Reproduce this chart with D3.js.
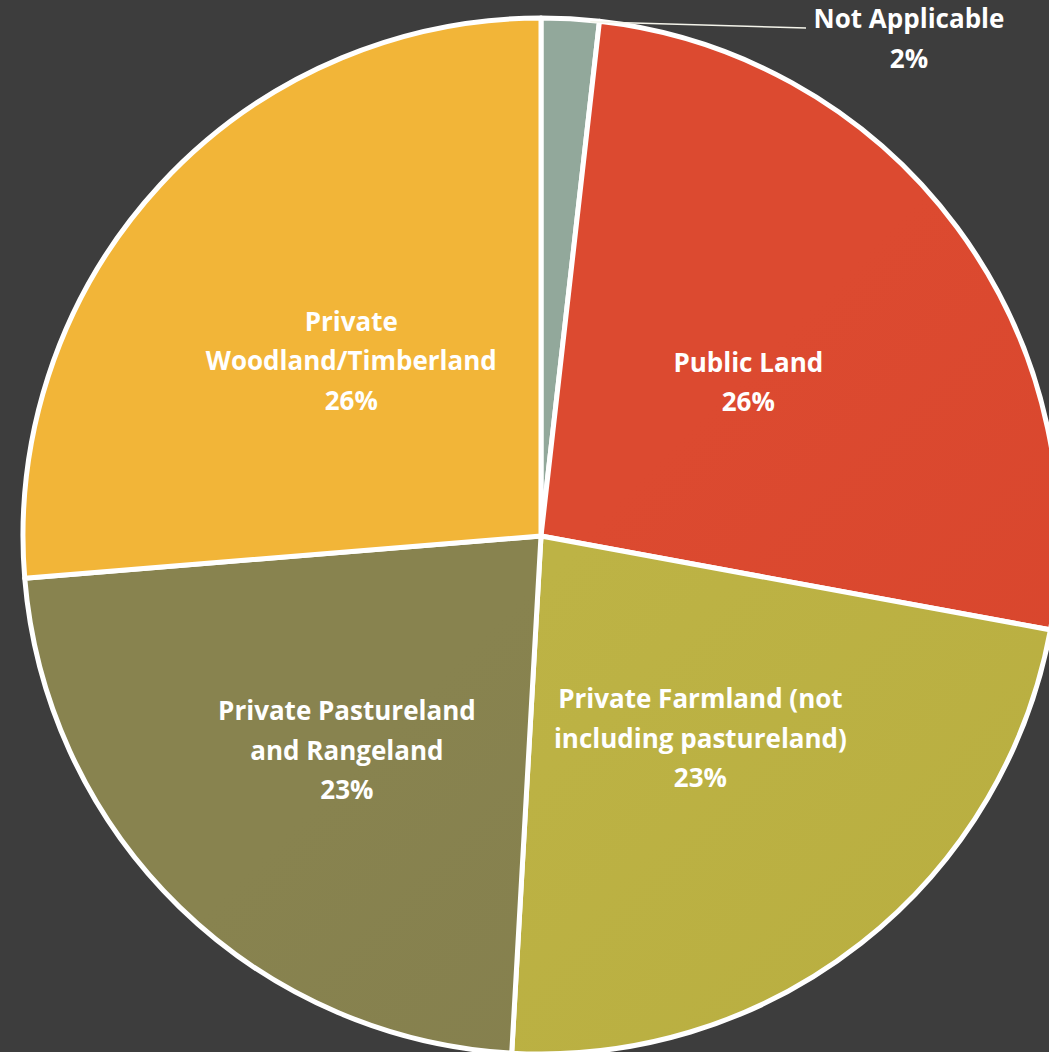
<!DOCTYPE html>
<html>
<head>
<meta charset="utf-8">
<script src="https://cdn.jsdelivr.net/npm/d3@7"></script>
<style>
    html, body { margin: 0; padding: 0; background: #3d3d3d; overflow: hidden; }
    svg { display: block; }
    .lbl { font-family: "Open Sans", Lato, sans-serif; font-weight: bold; font-size: 26px; fill: #ffffff; }
</style>
</head>
<body>
<svg id="chart" width="1049" height="1052"></svg>
<script>
// data, clockwise from 12 o'clock
var categories = ["Not Applicable", "Public Land", "Private Farmland (not including pastureland)",
    "Private Pastureland and Rangeland", "Private Woodland/Timberland"];
var labelLines = [["Not Applicable"], ["Public Land"], ["Private Farmland (not", "including pastureland)"],
    ["Private Pastureland", "and Rangeland"], ["Private", "Woodland/Timberland"]];
var shares = [1.8, 26.1, 23.0, 22.8, 26.3];
var pctLabels = ["2%", "26%", "23%", "23%", "26%"];
var colorsLight = ["#92a89b", "#dc4a30", "#bdb345", "#88834f", "#f2b538"];
var colorsDark = ["#899d90", "#d13e27", "#b3a83a", "#7c764a", "#e9a933"];

var width = 1049, height = 1052;
var cx = 541, cy = 536, radius = 518;

var svg = d3.select("#chart");

var defs = svg.append("defs");
colorsLight.forEach(function (c, i) {
    var g = defs.append("linearGradient")
        .attr("id", "grad" + i)
        .attr("gradientUnits", "userSpaceOnUse")
        .attr("x1", cx - radius).attr("y1", cy - radius)
        .attr("x2", cx + radius).attr("y2", cy + radius);
    g.append("stop").attr("offset", "0%").attr("stop-color", c);
    g.append("stop").attr("offset", "100%").attr("stop-color", colorsDark[i]);
});

var pie = d3.pie().sort(null).value(function (d) { return d; });
var arcs = pie(shares);

var arc = d3.arc().innerRadius(0).outerRadius(radius);
var labelArc = d3.arc().innerRadius(258).outerRadius(258);

var g = svg.append("g").attr("transform", "translate(" + cx + "," + cy + ")");

g.selectAll(".slice")
    .data(arcs)
    .join("path")
    .attr("class", "slice")
    .attr("d", arc)
    .style("fill", function (d, i) { return "url(#grad" + i + ")"; })
    .style("stroke", "#ffffff")
    .style("stroke-width", 5)
    .style("stroke-linejoin", "round");

// inner labels
var lineH = 39.5;
arcs.forEach(function (d, i) {
    if (i == 0) return;
    var c = labelArc.centroid(d);
    var lines = labelLines[i].concat([pctLabels[i]]);
    var nudgeX = i == 3 ? -14 : 0;
    var nudgeY = i == 3 ? 30 : 0;
    var top = c[1] + nudgeY - (lines.length - 1) * lineH / 2;
    var t = g.append("text")
        .attr("class", "lbl")
        .attr("text-anchor", "middle");
    lines.forEach(function (s, k) {
        t.append("tspan")
            .attr("x", c[0] + nudgeX)
            .attr("y", top + k * lineH)
            .attr("dy", "0.35em")
            .text(s);
    });
});

// outside label for the small slice, with leader line
var a0 = arcs[0];
var mid0 = (a0.startAngle + a0.endAngle) / 2;
var edge = [Math.sin(mid0) * radius, -Math.cos(mid0) * radius];
var lx = 810 - cx, ly = 28 - cy;
g.append("path")
    .attr("d", "M" + (edge[0] + 20) + "," + (edge[1] + 3) + "L" + (lx - 4) + "," + ly)
    .style("fill", "none")
    .style("stroke", "#f4f4ea")
    .style("stroke-width", 1.5);

var t0 = g.append("text").attr("class", "lbl").attr("text-anchor", "middle");
[labelLines[0][0], pctLabels[0]].forEach(function (s, k) {
    t0.append("tspan")
        .attr("x", 909 - cx)
        .attr("y", 19 - cy + k * lineH)
        .attr("dy", "0.35em")
        .text(s);
});
</script>
</body>
</html>
